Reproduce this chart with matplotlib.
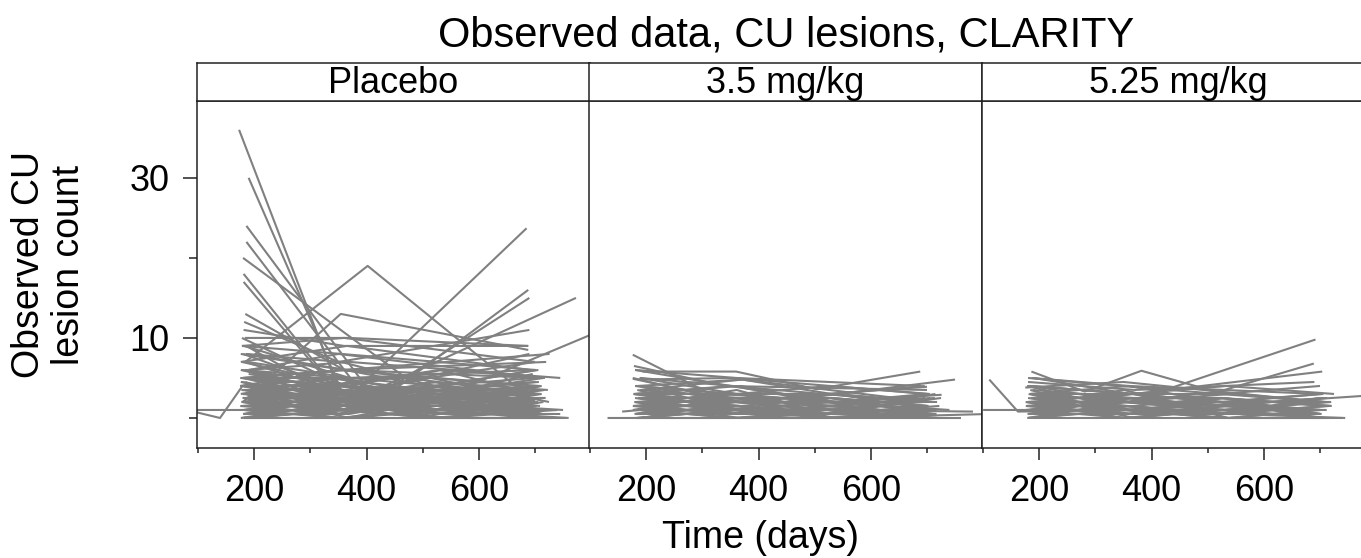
import matplotlib
matplotlib.use("Agg")
import matplotlib.pyplot as plt
from matplotlib.ticker import FixedLocator, NullFormatter

plt.rcParams['font.family'] = ['Liberation Sans', 'DejaVu Sans']

# ---------------- data ----------------
panel_names = ["Placebo", "3.5 mg/kg", "5.25 mg/kg"]

placebo_times = [
    [173, 359, 700], [190, 364, 690], [186, 409, 700], [186, 393, 690],
    [180, 470, 700], [181, 330, 690], [181, 350, 700], [184, 360, 680],
    [184, 402, 700], [180, 354, 688], [180, 360, 685], [185, 400, 688],
    [185, 380, 690], [180, 400, 773], [180, 530, 820], [181, 360, 688],
    [183, 370, 688], [178, 360, 700], [182, 350, 690], [176, 360, 726],
    [80, 139, 179, 360, 690], [60, 180, 350, 700], [178, 360, 690],
    [182, 370, 700], [185, 355, 520, 700], [176, 365, 690], [190, 350, 710],
    [180, 340, 530, 700], [184, 370, 690], [186, 360, 700],
    [175, 360, 530, 700], [180, 350, 520, 690], [185, 365, 540, 710],
    [190, 355, 510, 700], [178, 370, 525, 695], [182, 345, 530, 720],
    [176, 360, 515, 700], [188, 350, 535, 690], [181, 372, 520, 705],
    [186, 358, 528, 715], [179, 362, 510, 700], [183, 348, 540, 690],
    [177, 366, 522, 708], [189, 352, 518, 696], [184, 368, 532, 712],
    [180, 356, 526, 700], [175, 364, 514, 725], [187, 340, 530, 740],
    [182, 360, 520, 760], [178, 370, 540, 700], [191, 355, 525, 705],
    [176, 347, 512, 692], [185, 363, 535, 718], [180, 358, 524, 700],
    [184, 350, 519, 710], [179, 367, 538, 698], [188, 361, 527, 702],
    [181, 353, 516, 694], [186, 369, 533, 722], [177, 357, 521, 706],
    [183, 344, 529, 688], [190, 365, 541, 715], [175, 350, 510, 700],
    [182, 362, 523, 730], [187, 359, 537, 704], [180, 371, 517, 696],
    [178, 346, 531, 712], [185, 360, 520, 750], [189, 354, 526, 700],
    [176, 366, 534, 690], [181, 352, 515, 708], [184, 368, 539, 720],
    [179, 357, 522, 700], [186, 349, 528, 694], [182, 363, 513, 716],
    [188, 370, 530, 702], [177, 360, 536, 698], [183, 355, 518, 712],
    [180, 345, 525, 706], [185, 367, 540, 755], [180, 360, 720],
    [185, 365, 705], [190, 370, 745], [178, 355, 700],
    [178, 352, 521, 703], [183, 366, 536, 691], [187, 358, 514, 711],
    [180, 349, 530, 699], [176, 361, 525, 717], [189, 368, 519, 706],
    [182, 343, 533, 695], [185, 357, 511, 723], [179, 364, 528, 701],
    [184, 351, 537, 709], [188, 362, 516, 697], [177, 354, 524, 713],
    [181, 369, 531, 704], [186, 346, 520, 692], [190, 360, 535, 719],
    [175, 356, 518, 707], [183, 363, 527, 700], [180, 348, 539, 745],
    [187, 371, 513, 696], [178, 359, 529, 714],
]
placebo_counts = [
    [36, 2, 1], [30, 2, 3], [24, 3, 2], [22, 3, 1],
    [20, 5, 3], [18, 5, 2], [17, 3, 2], [13, 6, 4],
    [7, 19, 2], [2, 13, 8.5], [5, 2, 23.7], [4, 1, 16],
    [6, 1, 15], [3, 3, 15], [4, 2.5, 11], [11, 9, 9],
    [10, 10, 9], [9, 10, 7], [12, 7, 11], [8, 6, 8],
    [1, 0, 4, 3, 2], [1, 1, 2, 1], [10, 4, 3],
    [9, 5, 6], [8, 7, 4, 5], [7, 9, 6], [6, 8, 5],
    [8, 4, 6, 3], [7, 3, 8], [9, 2, 4],
    [5, 4, 3, 4], [4, 5, 3, 2], [3, 2, 4, 3],
    [6, 3, 2, 1], [2, 3, 1, 2], [1, 2, 2, 1],
    [0, 1, 0, 1], [3, 1, 2, 0], [4, 2, 1, 3],
    [2, 4, 3, 5], [5, 6, 4, 3], [1, 0, 1, 0],
    [6, 5, 5, 4], [0, 2, 1, 2], [3, 3, 2, 4],
    [2, 1, 3, 1], [4, 3, 5, 2], [1, 1, 0, 1],
    [0, 0, 1, 0], [7, 4, 3, 2], [5, 2, 0, 1],
    [3, 5, 2, 3], [6, 4, 6, 5], [2, 2, 2, 2],
    [1, 3, 1, 4], [4, 1, 2, 0], [0, 1, 2, 1],
    [5, 5, 3, 3], [3, 0, 1, 0], [2, 3, 4, 6],
    [6, 2, 3, 1], [1, 2, 0, 2], [4, 6, 5, 7],
    [0, 0, 0, 0], [3, 4, 2, 1], [5, 3, 4, 2],
    [2, 1, 1, 3], [1, 1, 2, 1], [4, 2, 3, 3],
    [6, 3, 1, 2], [0, 1, 1, 1], [2, 3, 2, 0],
    [3, 2, 4, 2], [5, 4, 2, 4], [1, 0, 2, 1],
    [7, 5, 4, 6], [0, 2, 0, 0], [4, 4, 3, 1],
    [2, 0, 1, 2], [3, 1, 0, 0], [5, 6, 7],
    [8, 6, 5], [6, 7, 5], [9, 8, 6],
    [1.5, 2.5, 0.5, 1.5], [3.5, 1.5, 2.5, 0.5], [0.5, 3.5, 1.5, 2.5],
    [2.5, 0.5, 3.5, 1.5], [4.5, 2.5, 1.5, 3.5], [1.5, 4.5, 2.5, 0.5],
    [3.5, 3.5, 0.5, 2.5], [0.5, 1.5, 4.5, 3.5], [2.5, 2.5, 3.5, 4.5],
    [4.5, 0.5, 2.5, 1.5], [1.5, 1.5, 1.5, 2.5], [3.5, 2.5, 4.5, 0.5],
    [0.5, 0.5, 2.5, 3.5], [2.5, 4.5, 0.5, 1.5], [5.5, 3.5, 2.5, 2.5],
    [1.5, 0.5, 3.5, 4.5], [3.5, 1.5, 1.5, 0.5], [0.5, 2.5, 0.5, 0.5],
    [2.5, 3.5, 2.5, 5.5], [4.5, 1.5, 0.5, 2.5],
]

dose35_times = [
    [176, 312, 540, 700], [193, 360, 503, 688], [185, 371, 530, 700],
    [176, 370, 532, 750], [180, 360, 520, 700], [182, 355, 530, 726],
    [184, 365, 525, 782], [186, 350, 540, 810], [131, 185, 360, 700],
    [157, 190, 355, 690], [180, 350, 515, 695], [188, 362, 528, 705],
    [178, 368, 520, 700], [183, 356, 535, 712], [190, 364, 510, 690],
    [176, 352, 527, 718], [185, 370, 541, 700], [181, 358, 519, 708],
    [187, 347, 530, 696], [179, 366, 524, 700], [184, 360, 536, 715],
    [189, 354, 512, 702], [177, 369, 528, 690], [182, 351, 520, 706],
    [186, 363, 533, 720], [180, 357, 517, 698], [185, 345, 529, 740],
    [178, 372, 538, 710], [191, 359, 522, 700], [183, 367, 514, 694],
    [176, 353, 531, 704], [188, 361, 526, 716], [181, 349, 540, 700],
    [186, 365, 518, 692], [179, 356, 535, 708], [184, 370, 523, 760],
    [180, 360, 690], [185, 355, 700], [190, 371, 705], [178, 340, 700],
    [182, 358, 525, 703], [187, 366, 516, 711], [179, 350, 534, 697],
    [184, 362, 521, 717], [177, 355, 529, 700], [189, 368, 513, 706],
    [181, 347, 538, 693], [186, 361, 520, 722], [180, 369, 527, 709],
    [183, 352, 532, 701], [188, 364, 517, 714], [176, 357, 536, 695],
    [185, 346, 524, 707], [190, 370, 530, 699], [178, 360, 519, 725],
]
dose35_counts = [
    [7.9, 3.1, 2, 1], [5.8, 5.8, 3.6, 5.8], [4, 4.8, 3, 2],
    [4.9, 2, 2.9, 4.8], [3, 2, 3, 3.9], [4, 3, 2, 2.9],
    [1, 1, 1, 0.8], [0, 1, 0, 0.5], [0, 0, 1, 0],
    [0.8, 1, 0, 1], [6, 4, 3, 2], [5, 3, 4, 3],
    [3, 4, 2, 2], [2, 2, 3, 1], [4, 2, 1, 1],
    [1, 3, 2, 2], [2, 1, 0, 1], [0, 0, 1, 0],
    [3, 3, 3, 4], [2, 0, 1, 0], [1, 2, 1, 3],
    [5, 4, 2, 1], [3, 1, 2, 2], [0, 1, 0, 1],
    [2, 3, 1, 0], [4, 3, 3, 2], [1, 1, 2, 1],
    [3, 2, 0, 1], [0, 2, 2, 0], [2, 2, 1, 2],
    [5, 2, 1, 0], [1, 0, 0, 1], [3, 4, 2, 3],
    [4, 1, 1, 1], [2, 1, 3, 2], [0, 0, 0, 0],
    [6, 5, 4], [4.8, 5, 3], [3.5, 4.8, 2], [6.5, 4, 3.5],
    [1.5, 0.5, 2.5, 1.5], [2.5, 1.5, 0.5, 0.5], [0.5, 2.5, 1.5, 2.5],
    [3.5, 0.5, 1.5, 0.5], [1.5, 2.5, 2.5, 1.5], [2.5, 1.5, 0.5, 2.5],
    [0.5, 0.5, 1.5, 0.5], [1.5, 3.5, 0.5, 1.5], [2.5, 0.5, 2.5, 0.5],
    [0.5, 1.5, 0.5, 1.5], [3.5, 2.5, 1.5, 2.5], [1.5, 0.5, 0.5, 0.5],
    [2.5, 2.5, 1.5, 0.5], [0.5, 1.5, 2.5, 1.5], [1.5, 1.5, 0.5, 2.5],
]

dose525_times = [
    [185, 360, 692], [190, 360, 520, 689], [180, 370, 704],
    [186, 281, 382, 513, 700], [111, 162, 360, 700], [100, 175, 350, 690],
    [185, 360, 614, 850], [180, 355, 745], [182, 365, 525, 700],
    [188, 350, 530, 710], [176, 368, 518, 695], [184, 356, 535, 705],
    [190, 362, 522, 700], [179, 347, 528, 716], [185, 370, 513, 690],
    [181, 358, 540, 708], [187, 352, 520, 700], [177, 366, 531, 720],
    [183, 360, 516, 694], [189, 354, 526, 712], [180, 369, 537, 700],
    [186, 349, 523, 704], [178, 363, 529, 698], [184, 357, 519, 740],
    [191, 371, 534, 706], [176, 351, 512, 700], [182, 365, 527, 718],
    [188, 359, 538, 692], [180, 346, 521, 710], [185, 367, 530, 700],
    [179, 355, 515, 696], [183, 362, 533, 725], [187, 350, 524, 702],
    [181, 368, 539, 708], [186, 360, 700], [180, 370, 690], [175, 350, 705],
    [182, 361, 522, 706], [187, 353, 535, 698], [179, 367, 517, 713],
    [184, 348, 530, 701], [177, 364, 526, 719], [189, 357, 513, 704],
    [181, 370, 538, 695], [186, 351, 520, 710], [180, 362, 529, 700],
    [183, 355, 533, 716], [188, 366, 518, 707], [176, 359, 524, 693],
    [185, 344, 536, 703], [190, 368, 515, 721], [178, 356, 531, 699],
]
dose525_counts = [
    [1, 2, 9.8], [3, 2, 3.3, 6.8], [4, 3, 5.8],
    [5.8, 3.3, 5.9, 3.3, 2], [4.8, 0.8, 1, 1], [1, 1, 2, 1],
    [2, 1, 2, 3.1], [2, 1, 0], [4, 3, 2, 3],
    [3, 2, 1, 2], [2, 1, 2, 1], [1, 0, 1, 0],
    [5, 3, 3, 4], [0, 1, 0, 0], [3, 3, 2, 1],
    [2, 2, 3, 2], [4, 2, 1, 1], [1, 1, 1, 2],
    [3, 4, 2, 2], [0, 0, 1, 1], [2, 3, 0, 1],
    [1, 2, 2, 0], [4, 1, 1, 2], [0, 1, 0, 0],
    [3, 2, 2, 3], [2, 0, 1, 1], [1, 3, 2, 2],
    [3, 1, 0, 1], [5, 4, 3, 2], [2, 2, 1, 0],
    [0, 2, 1, 1], [4, 3, 4, 3], [1, 1, 2, 1],
    [3, 0, 0, 0], [5, 4, 3], [4.5, 3.5, 4.5], [3.8, 4.5, 2],
    [1.5, 0.5, 2.5, 1.5], [2.5, 1.5, 0.5, 0.5], [0.5, 2.5, 1.5, 2.5],
    [3.5, 0.5, 1.5, 0.5], [1.5, 2.5, 2.5, 1.5], [2.5, 1.5, 0.5, 2.5],
    [0.5, 0.5, 1.5, 0.5], [1.5, 3.5, 0.5, 1.5], [2.5, 0.5, 2.5, 0.5],
    [0.5, 1.5, 0.5, 1.5], [3.5, 2.5, 1.5, 2.5], [1.5, 0.5, 0.5, 0.5],
    [2.5, 2.5, 1.5, 0.5], [0.5, 1.5, 2.5, 1.5], [1.5, 1.5, 0.5, 2.5],
]

x_major = [200, 400, 600]
x_minor = [100, 300, 500, 700]
y_major = [10, 30]
y_minor = [0, 20]
x_limits = (98, 798)
y_limits = (-3.75, 39.6)

# ---------------- figure ----------------
W, H = 1361, 558
fig = plt.figure(figsize=(W / 100, H / 100), dpi=100)

panel_left_px = [197, 589, 982]
panel_w_px = 393
panel_top_px, panel_bot_px = 101, 448
strip_top_px = 63

line_color = "#808080"
frame_color = "#222222"
fs_tick = 26
fs_strip = 26
fs_title = 30
fs_label = 27

groups = [(placebo_times, placebo_counts),
          (dose35_times, dose35_counts),
          (dose525_times, dose525_counts)]

for i, (name, (times, counts)) in enumerate(zip(panel_names, groups)):
    l = panel_left_px[i] / W
    w = panel_w_px / W
    b = (H - panel_bot_px) / H
    h = (panel_bot_px - panel_top_px) / H
    ax = fig.add_axes([l, b, w, h])
    for t, c in zip(times, counts):
        ax.plot(t, c, color=line_color, lw=1.5, solid_capstyle="butt")
    ax.set_xlim(*x_limits)
    ax.set_ylim(*y_limits)
    for s in ax.spines.values():
        s.set_color(frame_color)
        s.set_linewidth(1.1)
    ax.xaxis.set_major_locator(FixedLocator(x_major))
    ax.xaxis.set_minor_locator(FixedLocator(x_minor))
    ax.xaxis.set_minor_formatter(NullFormatter())
    ax.tick_params(axis="x", which="major", length=8.6, width=1.1,
                   labelsize=fs_tick, pad=10, color=frame_color)
    ax.tick_params(axis="x", which="minor", length=3.6, width=1.1,
                   color=frame_color)
    if i == 0:
        ax.yaxis.set_major_locator(FixedLocator(y_major))
        ax.yaxis.set_minor_locator(FixedLocator(y_minor))
        ax.yaxis.set_minor_formatter(NullFormatter())
        ax.tick_params(axis="y", which="major", length=10, width=1.1,
                       labelsize=fs_tick, pad=10, color=frame_color)
        ax.tick_params(axis="y", which="minor", length=6, width=1.1,
                       color=frame_color)
    else:
        ax.yaxis.set_major_locator(FixedLocator([]))
        ax.yaxis.set_minor_locator(FixedLocator([]))

    # strip header
    sax = fig.add_axes([l, (H - panel_top_px) / H, w,
                        (panel_top_px - strip_top_px) / H])
    sax.set_xticks([])
    sax.set_yticks([])
    for s in sax.spines.values():
        s.set_color(frame_color)
        s.set_linewidth(1.1)
    sax.text(0.5, 0.47, name, ha="center", va="center", fontsize=fs_strip,
             transform=sax.transAxes)

centre_x = (panel_left_px[0] + panel_left_px[2] + panel_w_px) / 2 / W
fig.text(centre_x, 1 - 35 / H, "Observed data, CU lesions, CLARITY",
         ha="center", va="center", fontsize=fs_title)
fig.text(760 / W, 1 - 538 / H, "Time (days)", ha="center", va="center",
         fontsize=fs_label)
fig.text(49 / W, 1 - 265 / H, "Observed CU\nlesion count", ha="center",
         va="center", rotation=90, fontsize=fs_label, multialignment="center",
         linespacing=1.15)

fig.savefig("out.png", dpi=100)
